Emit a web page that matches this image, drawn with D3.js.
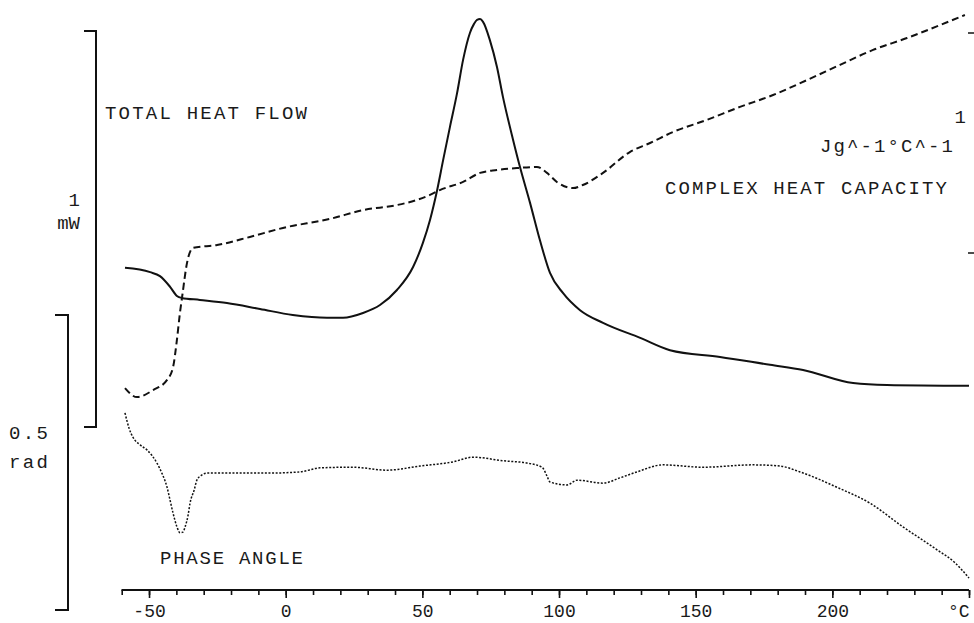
<!DOCTYPE html>
<html>
<head>
<meta charset="utf-8">
<script src="https://cdn.jsdelivr.net/npm/d3@7"></script>
<style>
  html, body { margin: 0; padding: 0; background: #fff; }
  svg { display: block; }
  text { font-family: "Liberation Mono", "DejaVu Sans Mono", monospace; fill: #1a1a1a; }
</style>
</head>
<body>
<svg id="chart" width="974" height="623"></svg>
<script>
// Temperature (°C) of each reading
const heatFlowTemp = [-58.8, -49.6, -46.0, -42.3, -39.8, -38.0, -31.4, -21.5, -9.4, 2.6, 15.1, 21.0, 28.3, 34.5,
  40.7, 46.6, 50.2, 52.8, 55.4, 57.6, 60.1, 62.7, 64.9, 67.4, 68.9, 70.0, 71.1, 72.2, 74.7, 77.3, 79.5, 83.2,
  85.7, 89.4, 93.0, 96.7, 101.5, 107.7, 116.1, 129.7, 140.6, 158.9, 177.2, 189.3, 207.6, 220.0, 250.0];
// Total heat flow (mW)
const heatFlow = [0.402, 0.391, 0.381, 0.354, 0.331, 0.326, 0.321, 0.313, 0.298, 0.283, 0.276, 0.276, 0.288, 0.308,
  0.346, 0.404, 0.465, 0.523, 0.598, 0.674, 0.758, 0.843, 0.927, 0.995, 1.018, 1.028, 1.030, 1.023, 0.977, 0.909, 0.833, 0.725,
  0.657, 0.566, 0.472, 0.389, 0.338, 0.295, 0.263, 0.225, 0.194, 0.177, 0.157, 0.144, 0.111, 0.106, 0.104];

const cpTemp = [-58.8, -54.4, -48.5, -43.4, -41.2, -39.8, -38.7, -37.9, -36.1, -33.9, -25.1, -13.1, -1.0, 16.2,
  28.3, 40.7, 48.0, 52.8, 56.4, 64.9, 71.1, 77.3, 84.6, 91.9, 95.6, 99.2, 105.1, 108.7, 116.1, 125.9, 133.3,
  141.7, 154.1, 166.2, 178.3, 190.7, 202.8, 214.9, 227.3, 239.4, 248.5];
// Complex heat capacity (J g^-1 °C^-1)
const complexCp = [0.386, 0.345, 0.377, 0.423, 0.482, 0.605, 0.727, 0.800, 0.955, 1.023, 1.036, 1.073, 1.114, 1.155,
  1.195, 1.218, 1.241, 1.264, 1.286, 1.323, 1.364, 1.377, 1.386, 1.391, 1.364, 1.323, 1.295, 1.309, 1.364, 1.459, 1.500,
  1.550, 1.605, 1.664, 1.718, 1.786, 1.855, 1.923, 1.977, 2.036, 2.082];

const phaseTemp = [-58.8, -57.3, -55.9, -53.3, -50.7, -47.1, -45.3, -43.4, -42.3, -41.2, -39.8, -38.7, -37.6, -36.8,
  -35.7, -35.0, -33.5, -32.5, -30.6, -28.8, -19.3, -6.8, 5.2, 12.6, 24.6, 37.1, 49.1, 61.2, 68.5, 79.5, 88.3,
  93.8, 95.6, 96.7, 102.9, 106.6, 116.1, 122.3, 128.5, 138.0, 152.7, 171.0, 180.8, 188.2, 201.7, 213.8, 225.8,
  238.3, 244.9, 250.0];
// Phase angle (rad)
const phaseAngle = [0.334, 0.308, 0.293, 0.280, 0.271, 0.249, 0.232, 0.208, 0.186, 0.164, 0.141, 0.131, 0.132, 0.141,
  0.161, 0.181, 0.203, 0.220, 0.229, 0.232, 0.232, 0.232, 0.234, 0.241, 0.242, 0.237, 0.244, 0.251, 0.259, 0.253, 0.249,
  0.242, 0.227, 0.217, 0.212, 0.220, 0.215, 0.224, 0.234, 0.246, 0.242, 0.246, 0.244, 0.234, 0.208, 0.181, 0.141,
  0.102, 0.080, 0.054];

const majorTicks = [-50, 0, 50, 100, 150, 200, 250];
const majorTickLabels = ["-50", "0", "50", "100", "150", "200", "°C"];
const minorTicks = d3.range(-60, 251, 10);

const svg = d3.select("#chart");

const x = d3.scaleLinear().domain([-60, 250]).range([121.7, 969]);
// each signal has its own vertical scale, shown by the scale bars
const yHeat = d3.scaleLinear().domain([0, 1]).range([427, 31]);
const yCp = d3.scaleLinear().domain([1, 2]).range([253, 33]);
const yPhase = d3.scaleLinear().domain([0, 0.5]).range([610, 315]);

// temperature axis
const axisY = 590;
const minorAxis = d3.axisBottom(x).tickValues(minorTicks).tickSize(5).tickFormat("");
const majorAxis = d3.axisBottom(x).tickValues(majorTicks).tickSize(8)
  .tickFormat((d, i) => majorTickLabels[i]).tickPadding(6);
const gMinor = svg.append("g").attr("transform", `translate(0,${axisY})`).call(minorAxis);
const gMajor = svg.append("g").attr("transform", `translate(0,${axisY})`).call(majorAxis);
[gMinor, gMajor].forEach(g => {
  g.select(".domain").attr("d", `M${x(-60)},0H${x(250)}`).attr("stroke", "#111").attr("stroke-width", 2);
  g.selectAll(".tick line").attr("stroke", "#111").attr("stroke-width", 1.6);
});
gMajor.selectAll(".tick text").attr("font-size", 18).attr("fill", "#1a1a1a")
  .attr("font-family", "Liberation Mono, monospace");
gMajor.selectAll(".tick").filter(d => d === 250).select("text").attr("text-anchor", "end").attr("dx", 0);

// scale bars
function bracket(xLine, y0, y1, len) {
  svg.append("path")
    .attr("d", `M${xLine - len},${y0}H${xLine}V${y1}H${xLine - len}`)
    .attr("fill", "none").attr("stroke", "#111").attr("stroke-width", 2);
}
bracket(96, yHeat(1), yHeat(0), 12);
bracket(68, yPhase(0.5), yPhase(0), 13);
[1, 2].forEach(v => {
  svg.append("line").attr("x1", 968).attr("x2", 974).attr("y1", yCp(v)).attr("y2", yCp(v))
    .attr("stroke", "#111").attr("stroke-width", 1.5);
});

// curves
function drawSeries(temps, vals, yScale, dash, width) {
  const pts = temps.map((t, i) => [t, vals[i]]);
  svg.append("path")
    .datum(pts)
    .attr("d", d3.line().x(d => x(d[0])).y(d => yScale(d[1])).curve(d3.curveMonotoneX))
    .attr("fill", "none").attr("stroke", "#111").attr("stroke-width", width)
    .attr("stroke-dasharray", dash);
}
drawSeries(heatFlowTemp, heatFlow, yHeat, null, 2);
drawSeries(cpTemp, complexCp, yCp, "7,4", 2);
drawSeries(phaseTemp, phaseAngle, yPhase, "2,1.6", 1.5);

// labels
function label(txt, xp, yp, size, anchor, len) {
  const t = svg.append("text").attr("x", xp).attr("y", yp).attr("font-size", size)
    .attr("text-anchor", anchor || "start").text(txt);
  if (len) t.attr("textLength", len).attr("lengthAdjust", "spacing");
  return t;
}
label("TOTAL HEAT FLOW", 105, 119, 19, "start", 202);
label("1", 80, 206, 19, "end");
label("mW", 80, 229, 19, "end");
label("0.5", 9, 439, 19, "start", 39);
label("rad", 9, 468, 19, "start", 39);
label("PHASE ANGLE", 160, 564, 19, "start", 143);
label("1", 966, 123, 19, "end");
label("Jg^-1°C^-1", 820, 152, 19, "start", 133);
label("COMPLEX HEAT CAPACITY", 665, 194, 19, "start", 282);
</script>
</body>
</html>
